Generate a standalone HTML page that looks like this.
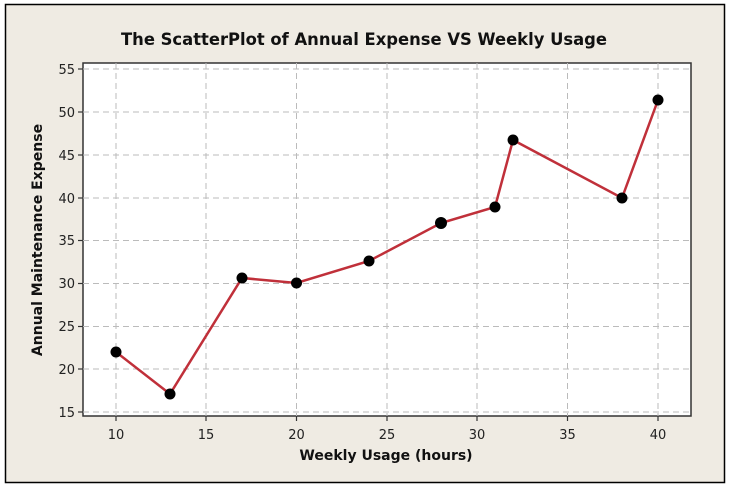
<!DOCTYPE html>
<html><head><meta charset="utf-8"><style>
body{margin:0;background:#fff;}
</style></head><body>
<svg width="747" height="489" xmlns="http://www.w3.org/2000/svg" font-family="DejaVu Sans, Liberation Sans, sans-serif">
<rect x="0" y="0" width="747" height="489" fill="#fff"/>
<rect x="5.5" y="4.5" width="719" height="478" fill="#efebe3" stroke="#000" stroke-width="1.5"/>
<rect x="83" y="63" width="608" height="353" fill="#fff" stroke="#333" stroke-width="1.5"/>
<g stroke="#bbb" stroke-width="1" stroke-dasharray="6,4">
<line x1="116" y1="63" x2="116" y2="416"/><line x1="206" y1="63" x2="206" y2="416"/>
<line x1="296.5" y1="63" x2="296.5" y2="416"/><line x1="387" y1="63" x2="387" y2="416"/>
<line x1="477" y1="63" x2="477" y2="416"/><line x1="567.5" y1="63" x2="567.5" y2="416"/>
<line x1="658" y1="63" x2="658" y2="416"/>
<line x1="83" y1="69" x2="691" y2="69"/><line x1="83" y1="112" x2="691" y2="112"/>
<line x1="83" y1="155" x2="691" y2="155"/><line x1="83" y1="198" x2="691" y2="198"/>
<line x1="83" y1="240.5" x2="691" y2="240.5"/><line x1="83" y1="283.5" x2="691" y2="283.5"/>
<line x1="83" y1="326.5" x2="691" y2="326.5"/><line x1="83" y1="369" x2="691" y2="369"/>
<line x1="83" y1="412" x2="691" y2="412"/>
</g>
<g stroke="#333" stroke-width="1.2">
<line x1="116" y1="416" x2="116" y2="421"/><line x1="206" y1="416" x2="206" y2="421"/>
<line x1="296.5" y1="416" x2="296.5" y2="421"/><line x1="387" y1="416" x2="387" y2="421"/>
<line x1="477" y1="416" x2="477" y2="421"/><line x1="567.5" y1="416" x2="567.5" y2="421"/>
<line x1="658" y1="416" x2="658" y2="421"/>
<line x1="78" y1="69" x2="83" y2="69"/><line x1="78" y1="112" x2="83" y2="112"/>
<line x1="78" y1="155" x2="83" y2="155"/><line x1="78" y1="198" x2="83" y2="198"/>
<line x1="78" y1="240.5" x2="83" y2="240.5"/><line x1="78" y1="283.5" x2="83" y2="283.5"/>
<line x1="78" y1="326.5" x2="83" y2="326.5"/><line x1="78" y1="369" x2="83" y2="369"/>
<line x1="78" y1="412" x2="83" y2="412"/>
</g>
<g font-size="13" fill="#222" text-anchor="middle">
<text x="116" y="439">10</text><text x="206" y="439">15</text><text x="296.5" y="439">20</text>
<text x="387" y="439">25</text><text x="477" y="439">30</text><text x="567.5" y="439">35</text><text x="658" y="439">40</text>
</g>
<g font-size="13" fill="#222" text-anchor="end">
<text x="75" y="74">55</text><text x="75" y="117">50</text><text x="75" y="160">45</text>
<text x="75" y="203">40</text><text x="75" y="245">35</text><text x="75" y="288">30</text>
<text x="75" y="331">25</text><text x="75" y="374">20</text><text x="75" y="417">15</text>
</g>
<polyline fill="none" stroke="#c0303a" stroke-width="2.5" points="116,352 170,394 242,278 296.5,283 369,261 441,223 495,207 513,140 622,198 658,100"/>
<g fill="#000">
<circle cx="116" cy="352" r="5.5"/><circle cx="170" cy="394" r="5.5"/><circle cx="242" cy="278" r="5.5"/>
<circle cx="296.5" cy="283" r="5.5"/><circle cx="369" cy="261" r="5.5"/><circle cx="441" cy="223" r="6"/>
<circle cx="495" cy="207" r="5.5"/><circle cx="513" cy="140" r="5.5"/><circle cx="622" cy="198" r="5.5"/>
<circle cx="658" cy="100" r="5.5"/>
</g>
<text x="364" y="45" font-size="16.5" font-weight="bold" text-anchor="middle" fill="#111" textLength="486" lengthAdjust="spacingAndGlyphs">The ScatterPlot of Annual Expense VS Weekly Usage</text>
<text x="386" y="460" font-size="14" font-weight="bold" text-anchor="middle" fill="#111">Weekly Usage (hours)</text>
<text transform="translate(42,240) rotate(-90)" font-size="14" font-weight="bold" text-anchor="middle" fill="#111">Annual Maintenance Expense</text>
</svg>
</body></html>
